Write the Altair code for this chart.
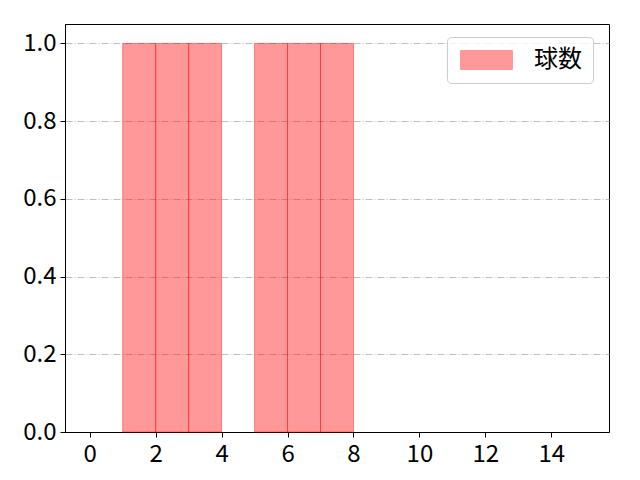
import altair as alt
import pandas as pd

bin_start = [1, 2, 3, 5, 6, 7]
bin_end = [2, 3, 4, 6, 7, 8]
counts = [1, 1, 1, 1, 1, 1]
series = ["球数"] * 6

x_ticks = [0, 2, 4, 6, 8, 10, 12, 14]
y_ticks = [0.0, 0.2, 0.4, 0.6, 0.8, 1.0]

df = pd.DataFrame({"start": bin_start, "end": bin_end, "count": counts,
                   "base": [0] * 6, "series": series})

FONT = "Noto Sans CJK JP"

bars = alt.Chart(df).mark_rect(
    fillOpacity=0.4, stroke="#ff0000", strokeOpacity=0.4, strokeWidth=1
).encode(
    x=alt.X("start:Q", scale=alt.Scale(domain=[-0.75, 15.75], nice=False, zero=False),
            axis=alt.Axis(values=x_ticks, title=None, grid=False, format="d", labelPadding=5)),
    x2="end:Q",
    y=alt.Y("count:Q", scale=alt.Scale(domain=[0, 1.05], nice=False),
            axis=alt.Axis(values=y_ticks, title=None, grid=True, format=".1f",
                          gridColor="#b0b0b0", gridDash=[7, 2, 1, 2], gridWidth=0.8)),
    y2="base:Q",
    color=alt.Color("series:N", scale=alt.Scale(range=["#ff0000"]),
                    legend=alt.Legend(
                        title=None, orient="none", legendX=382, legendY=13,
                        symbolType="M-1,-1H4.47V1H-1Z", symbolSize=361,
                        symbolOpacity=0.4, symbolStrokeColor="#ff0000",
                        symbolStrokeWidth=1, labelFont=FONT, labelFontSize=24,
                        labelColor="#000000", labelOffset=52,
                        padding=11, strokeColor="#cccccc", cornerRadius=4,
                        fillColor="rgba(255,255,255,0.8)")),
)

chart = bars.properties(
    width=544, height=408,
    autosize="none",
    padding={"left": 57, "top": 16, "right": 23, "bottom": 40},
).configure_view(
    stroke="#000000", strokeWidth=1
).configure_axis(
    labelFont=FONT, labelFontSize=24, labelColor="#000000",
    domainColor="#000000", tickColor="#000000", tickSize=5, labelPadding=4,
    domainWidth=1, tickWidth=1,
)

chart.save("out.html", embed_options={"renderer": "svg", "actions": False})
